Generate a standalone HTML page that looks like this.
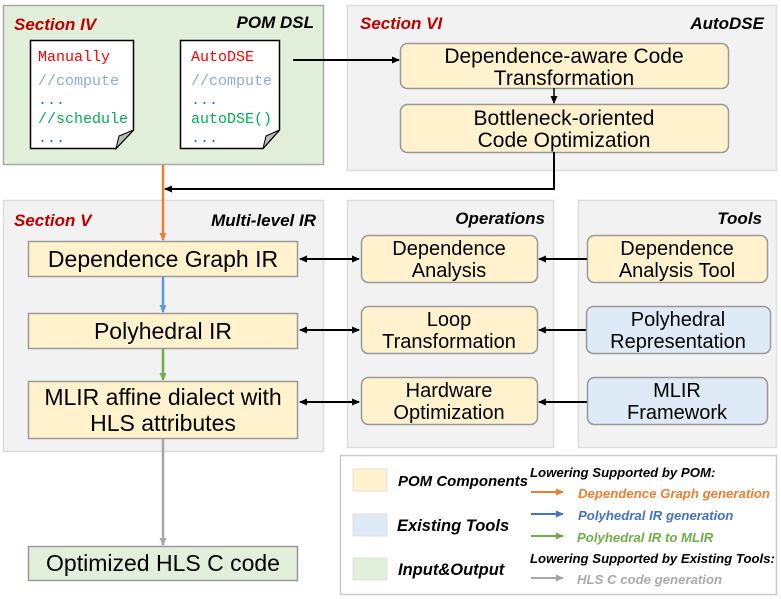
<!DOCTYPE html>
<html><head><meta charset="utf-8"><style>
body{margin:0;background:#fff}
svg{display:block}
text{font-family:"Liberation Sans",sans-serif}
.t{font-size:21px;fill:#000}
.s{font-size:20px;fill:#000}
.h{font-size:17px;font-weight:bold;font-style:italic}
.m{font-family:"Liberation Mono",monospace;font-size:15px}
.l{font-size:15px;font-weight:bold;font-style:italic}
.lg{font-size:13.2px;font-weight:bold;font-style:italic}
.b{font-size:23px;fill:#000}
</style></head><body>
<svg width="781" height="599" viewBox="0 0 781 599" xmlns="http://www.w3.org/2000/svg">
<defs>
<marker id="ak" markerWidth="8" markerHeight="8" refX="7" refY="4" orient="auto-start-reverse" markerUnits="userSpaceOnUse"><path d="M0,0.5 L8,4 L0,7.5Z" fill="#000"/></marker>
<marker id="ao" markerWidth="8" markerHeight="8" refX="7" refY="4" orient="auto" markerUnits="userSpaceOnUse"><path d="M0,0.5 L8,4 L0,7.5Z" fill="#ed7d31"/></marker>
<marker id="ab" markerWidth="8" markerHeight="8" refX="7" refY="4" orient="auto" markerUnits="userSpaceOnUse"><path d="M0,0.5 L8,4 L0,7.5Z" fill="#5b9bd5"/></marker>
<marker id="abd" markerWidth="8" markerHeight="8" refX="7" refY="4" orient="auto" markerUnits="userSpaceOnUse"><path d="M0,0.5 L8,4 L0,7.5Z" fill="#4472c4"/></marker>
<marker id="ag" markerWidth="8" markerHeight="8" refX="7" refY="4" orient="auto" markerUnits="userSpaceOnUse"><path d="M0,0.5 L8,4 L0,7.5Z" fill="#70ad47"/></marker>
<marker id="ay" markerWidth="8" markerHeight="8" refX="7" refY="4" orient="auto" markerUnits="userSpaceOnUse"><path d="M0,0.5 L8,4 L0,7.5Z" fill="#a6a6a6"/></marker>
</defs>
<rect x="3.5" y="5.5" width="320" height="159" fill="#e2efda" stroke="#aaa" stroke-width="1.5"/>
<text x="14" y="30" class="h" fill="#c00000">Section IV</text>
<text x="314" y="28" class="h" text-anchor="end">POM DSL</text>
<path d="M30.5,40.5 H133.5 V130 L116,148.5 H30.5Z" fill="#fff" stroke="#000" stroke-width="1.5"/>
<path d="M116,148.5 L119,136 L133.5,130Z" fill="#bbb" stroke="#000"/>
<text x="38" y="61" class="m" fill="#ff0000">Manually</text>
<text x="38" y="85" class="m" fill="#8faadc">//compute</text>
<text x="38" y="104" class="m" fill="#2e75b6">...</text>
<text x="38" y="123" class="m" fill="#00b050">//schedule</text>
<text x="38" y="142" class="m" fill="#2e75b6">...</text>
<path d="M180.5,40.5 H279.5 V130 L263,148.5 H180.5Z" fill="#fff" stroke="#000" stroke-width="1.5"/>
<path d="M263,148.5 L266,136 L279.5,130Z" fill="#bbb" stroke="#000"/>
<text x="191" y="61" class="m" fill="#ff0000">AutoDSE</text>
<text x="191" y="85" class="m" fill="#8faadc">//compute</text>
<text x="191" y="104" class="m" fill="#2e75b6">...</text>
<text x="191" y="123" class="m" fill="#00b050">autoDSE()</text>
<text x="191" y="142" class="m" fill="#2e75b6">...</text>
<rect x="347.5" y="5.5" width="429" height="165" fill="#f2f2f2" stroke="#ddd" stroke-width="1.5"/>
<text x="360" y="29" class="h" fill="#c00000">Section VI</text>
<text x="764" y="29" class="h" text-anchor="end">AutoDSE</text>
<rect x="400.5" y="43.5" width="328" height="45" rx="7" fill="#fff2cc" stroke="#999" stroke-width="1.5"/>
<text x="564" y="63" class="t" text-anchor="middle">Dependence-aware Code</text>
<text x="564" y="85" class="t" text-anchor="middle">Transformation</text>
<rect x="400.5" y="104.5" width="328" height="48" rx="7" fill="#fff2cc" stroke="#999" stroke-width="1.5"/>
<text x="564" y="125" class="t" text-anchor="middle">Bottleneck-oriented</text>
<text x="564" y="147" class="t" text-anchor="middle">Code Optimization</text>
<line x1="293" y1="60" x2="399" y2="60" stroke="#000" stroke-width="2" marker-end="url(#ak)"/>
<line x1="554" y1="88" x2="554" y2="103" stroke="#000" stroke-width="1.5" marker-end="url(#ak)"/>
<polyline points="554,152 554,189 165,189" fill="none" stroke="#000" stroke-width="2" marker-end="url(#ak)"/>
<rect x="3.5" y="200.5" width="320" height="251" fill="#f2f2f2" stroke="#ddd" stroke-width="1.5"/>
<text x="14" y="226" class="h" fill="#c00000">Section V</text>
<text x="316" y="226" class="h" text-anchor="end">Multi-level IR</text>
<line x1="163" y1="165" x2="163" y2="240" stroke="#ed7d31" stroke-width="2.5" marker-end="url(#ao)"/>
<rect x="28.5" y="241.5" width="269" height="35" fill="#fff2cc" stroke="#999" stroke-width="1.5"/>
<text x="163" y="267" class="b" text-anchor="middle">Dependence Graph IR</text>
<line x1="163" y1="277" x2="163" y2="312" stroke="#5b9bd5" stroke-width="2.5" marker-end="url(#ab)"/>
<rect x="28.5" y="313.5" width="269" height="35" fill="#fff2cc" stroke="#999" stroke-width="1.5"/>
<text x="163" y="339" class="b" text-anchor="middle">Polyhedral IR</text>
<line x1="163" y1="349" x2="163" y2="380" stroke="#70ad47" stroke-width="2.5" marker-end="url(#ag)"/>
<rect x="28.5" y="381.5" width="269" height="57" fill="#fff2cc" stroke="#999" stroke-width="1.5"/>
<text x="163" y="405" class="b" text-anchor="middle">MLIR affine dialect with</text>
<text x="163" y="431" class="b" text-anchor="middle">HLS attributes</text>
<line x1="163" y1="439" x2="163" y2="545" stroke="#a6a6a6" stroke-width="2.5" marker-end="url(#ay)"/>
<rect x="28.5" y="546.5" width="269" height="34" fill="#e2efda" stroke="#999" stroke-width="1.5"/>
<text x="163" y="571" class="b" text-anchor="middle">Optimized HLS C code</text>
<rect x="347.5" y="200.5" width="206" height="247" fill="#f2f2f2" stroke="#ddd" stroke-width="1.5"/>
<text x="545" y="224" class="h" text-anchor="end">Operations</text>
<rect x="361.5" y="235.5" width="176" height="47" rx="7" fill="#fff2cc" stroke="#999" stroke-width="1.5"/>
<text x="449" y="255" class="s" text-anchor="middle">Dependence</text>
<text x="449" y="277" class="s" text-anchor="middle">Analysis</text>
<rect x="361.5" y="306.5" width="176" height="47" rx="7" fill="#fff2cc" stroke="#999" stroke-width="1.5"/>
<text x="449" y="326" class="s" text-anchor="middle">Loop</text>
<text x="449" y="348" class="s" text-anchor="middle">Transformation</text>
<rect x="361.5" y="377.5" width="176" height="47" rx="7" fill="#fff2cc" stroke="#999" stroke-width="1.5"/>
<text x="449" y="397" class="s" text-anchor="middle">Hardware</text>
<text x="449" y="419" class="s" text-anchor="middle">Optimization</text>
<rect x="578.5" y="200.5" width="198" height="247" fill="#f2f2f2" stroke="#ddd" stroke-width="1.5"/>
<text x="762" y="224" class="h" text-anchor="end">Tools</text>
<rect x="587.5" y="235.5" width="180" height="47" rx="7" fill="#fff2cc" stroke="#999" stroke-width="1.5"/>
<text x="677" y="255" class="s" text-anchor="middle">Dependence</text>
<text x="677" y="277" class="s" text-anchor="middle">Analysis Tool</text>
<rect x="586.5" y="306.5" width="184" height="47" rx="7" fill="#deebf7" stroke="#999" stroke-width="1.5"/>
<text x="678" y="326" class="s" text-anchor="middle">Polyhedral</text>
<text x="678" y="348" class="s" text-anchor="middle">Representation</text>
<rect x="587.5" y="377.5" width="180" height="47" rx="7" fill="#deebf7" stroke="#999" stroke-width="1.5"/>
<text x="677" y="397" class="s" text-anchor="middle">MLIR</text>
<text x="677" y="419" class="s" text-anchor="middle">Framework</text>
<g stroke="#000" stroke-width="2" fill="none">
<line x1="300" y1="259" x2="359" y2="259" marker-start="url(#ak)" marker-end="url(#ak)"/>
<line x1="300" y1="330" x2="359" y2="330" marker-start="url(#ak)" marker-end="url(#ak)"/>
<line x1="300" y1="402" x2="359" y2="402" marker-start="url(#ak)" marker-end="url(#ak)"/>
<line x1="587" y1="259" x2="539" y2="259" marker-end="url(#ak)"/>
<line x1="586" y1="330" x2="539" y2="330" marker-end="url(#ak)"/>
<line x1="587" y1="402" x2="539" y2="402" marker-end="url(#ak)"/>
</g>
<rect x="340.5" y="455.5" width="436" height="139" fill="#fff" stroke="#ccc" stroke-width="1.5"/>
<rect x="353" y="469" width="34" height="22" fill="#fff2cc" stroke="#e0e0e0"/>
<rect x="353" y="514" width="34" height="22" fill="#deebf7" stroke="#e0e0e0"/>
<rect x="353" y="558" width="34" height="22" fill="#e2efda" stroke="#e0e0e0"/>
<text x="398" y="486" class="l">POM Components</text>
<text x="397" y="531" class="l" style="font-size:16.5px">Existing Tools</text>
<text x="398" y="575" class="l" style="font-size:16.5px">Input&amp;Output</text>
<text x="530" y="477" class="lg" fill="#000">Lowering Supported by POM:</text>
<line x1="531" y1="492" x2="563" y2="492" stroke="#ed7d31" stroke-width="2" marker-end="url(#ao)"/>
<text x="578" y="498" class="lg" fill="#ed7d31">Dependence Graph generation</text>
<line x1="531" y1="514" x2="563" y2="514" stroke="#4472c4" stroke-width="2" marker-end="url(#abd)"/>
<text x="578" y="520" class="lg" fill="#4472c4">Polyhedral IR generation</text>
<line x1="531" y1="536" x2="563" y2="536" stroke="#70ad47" stroke-width="2" marker-end="url(#ag)"/>
<text x="577" y="542" class="lg" fill="#70ad47">Polyhedral IR to MLIR</text>
<text x="530" y="563" class="lg" fill="#000">Lowering Supported by Existing Tools:</text>
<line x1="531" y1="578" x2="563" y2="578" stroke="#a6a6a6" stroke-width="2" marker-end="url(#ay)"/>
<text x="577" y="584" class="lg" fill="#aaa">HLS C code generation</text>
</svg>
</body></html>
